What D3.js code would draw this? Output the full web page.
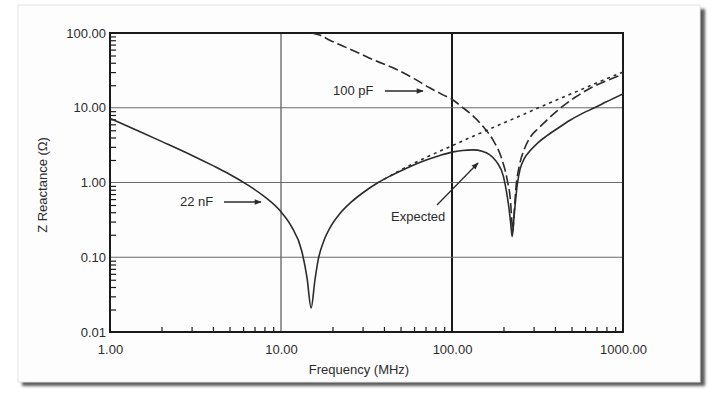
<!DOCTYPE html>
<html>
<head>
<meta charset="utf-8">
<script src="https://cdn.jsdelivr.net/npm/d3@7"></script>
<style>
  body { margin: 0; background: #ffffff; }
  svg { display: block; }
</style>
</head>
<body>
<svg id="chart" width="713" height="397"></svg>
<script>
// Solid line: 22 nF part at low frequency, "Expected" curve above it
var freqSolid = [1, 1.5, 2, 3, 4, 5, 6.3, 8, 10, 11.5, 13.2, 14.2, 15, 15.8, 16.5, 18, 19.3, 22, 26, 30, 37, 45, 55, 70, 85, 100, 115, 133, 150, 165, 182, 200, 209, 218, 222, 225, 229, 234, 241, 250, 265, 286, 320, 358, 420, 490, 580, 686, 800, 1000];
var zSolid = [7.2, 4.78, 3.55, 2.32, 1.68, 1.29, 0.945, 0.647, 0.405, 0.259, 0.123, 0.053, 0.021, 0.05, 0.092, 0.177, 0.246, 0.379, 0.558, 0.724, 1.0, 1.27, 1.58, 1.98, 2.3, 2.55, 2.68, 2.73, 2.62, 2.38, 1.9, 1.2, 0.72, 0.36, 0.24, 0.19, 0.29, 0.5, 0.95, 1.5, 2.1, 2.65, 3.45, 4.2, 5.4, 6.8, 8.4, 10.05, 12.0, 15.3];

// Dotted line: 22 nF alone above its resonance
var freqDotted = [40, 55, 70, 85, 100, 130, 160, 200, 260, 330, 420, 520, 650, 800, 1000];
var zDotted = [1.1, 1.64, 2.15, 2.63, 3.1, 4.07, 5.0, 6.25, 8.1, 10.3, 13.0, 16.0, 19.9, 24.4, 30];

// Dashed line: 100 pF
var freqDashed = [15.1, 17, 19.3, 23, 28, 35, 47.5, 60, 74, 88, 100, 114, 130, 152, 175, 195, 210, 220, 224, 227, 231, 236, 248, 265, 286, 320, 360, 419, 520, 650, 800, 1000];
var zDashed = [100, 93, 80, 67, 55, 43.5, 32.5, 24.5, 18.5, 15, 13, 10.3, 8.1, 5.6, 3.6, 2.1, 1.1, 0.55, 0.3, 0.22, 0.4, 0.8, 1.7, 2.8, 4.0, 5.3, 6.9, 9.4, 13.6, 18.5, 23, 28];

var xTicks = [1, 10, 100, 1000];
var yTicks = [0.01, 0.1, 1, 10, 100];
var xGrid = [10];
var yGrid = [0.1, 1, 10];

var drawChart = function() {
  let svg = d3.select("#chart");
  let font = "'Liberation Sans', Arial, Helvetica, sans-serif";
  let ink = "#2b2b2b";

  // card with shadow
  let defs = svg.append("defs");
  let f = defs.append("filter").attr("id", "blur").attr("x", "-5%").attr("y", "-5%").attr("width", "110%").attr("height", "110%");
  f.append("feGaussianBlur").attr("stdDeviation", 1.6);

  svg.append("rect")
  .attr("x", 22).attr("y", 9)
  .attr("width", 683).attr("height", 377)
  .attr("fill", "#5a5a5a")
  .attr("filter", "url(#blur)");

  svg.append("rect")
  .attr("x", 18).attr("y", 5)
  .attr("width", 682).attr("height", 377)
  .attr("fill", "#fefdfe")
  .attr("stroke", "#e4e4e4")
  .attr("stroke-width", 1);

  let margin = { top: 33, left: 110 };
  let plotWidth = 513;
  let plotHeight = 299;

  let x = d3.scaleLog().domain([1, 1000]).range([0, plotWidth]);
  let y = d3.scaleLog().domain([0.01, 100]).range([plotHeight, 0]);

  let plot = svg.append("g").attr("id", "plot")
  .attr("transform", "translate(" + margin.left + "," + margin.top + ")");

  defs.append("clipPath").attr("id", "clip")
  .append("rect").attr("width", plotWidth).attr("height", plotHeight);

  // grid
  plot.selectAll(".vgrid").data(xGrid).enter().append("line")
  .attr("x1", d => x(d)).attr("x2", d => x(d))
  .attr("y1", 0).attr("y2", plotHeight)
  .attr("stroke", "#555").attr("stroke-width", 1.2);

  plot.append("line")
  .attr("x1", x(100)).attr("x2", x(100))
  .attr("y1", 0).attr("y2", plotHeight)
  .attr("stroke", "#1a1a1a").attr("stroke-width", 2);

  plot.selectAll(".hgrid").data(yGrid).enter().append("line")
  .attr("x1", 0).attr("x2", plotWidth)
  .attr("y1", d => y(d)).attr("y2", d => y(d))
  .attr("stroke", "#6a6a6a").attr("stroke-width", 1.2);

  // minor ticks (2..9 in each decade), pointing into the plot
  let minorX = [];
  let minorY = [];
  [1, 10, 100].forEach(function(dec) {
    d3.range(2, 10).forEach(k => minorX.push(dec * k));
  });
  [0.01, 0.1, 1, 10].forEach(function(dec) {
    d3.range(2, 10).forEach(k => minorY.push(+(dec * k).toPrecision(3)));
  });

  let xMinor = plot.append("g").attr("transform", "translate(0," + plotHeight + ")")
  .call(d3.axisBottom(x).tickValues(minorX).tickSize(-5).tickFormat(""));
  let yMinor = plot.append("g")
  .call(d3.axisLeft(y).tickValues(minorY).tickSize(-6).tickFormat(""));
  [xMinor, yMinor].forEach(function(g) {
    g.select(".domain").remove();
    g.selectAll("line").attr("stroke", "#1a1a1a").attr("stroke-width", 1.2);
  });

  // axes with labels
  let xAxis = plot.append("g").attr("transform", "translate(0," + plotHeight + ")")
  .call(d3.axisBottom(x).tickValues(xTicks).tickSize(0).tickPadding(13).tickFormat(d3.format(".2f")));
  let yAxis = plot.append("g")
  .call(d3.axisLeft(y).tickValues(yTicks).tickSize(0).tickPadding(4).tickFormat(d3.format(".2f")));
  [xAxis, yAxis].forEach(function(g) {
    g.select(".domain").remove();
    g.selectAll("text")
    .style("font-family", font)
    .style("font-size", "13px")
    .style("fill", ink);
  });

  // frame
  plot.append("rect")
  .attr("width", plotWidth).attr("height", plotHeight)
  .attr("fill", "none")
  .attr("stroke", "#1a1a1a").attr("stroke-width", 2);

  // curves
  let line = d3.line()
  .x(d => x(d[0]))
  .y(d => y(d[1]))
  .curve(d3.curveMonotoneX);

  let curves = plot.append("g").attr("clip-path", "url(#clip)");

  curves.append("path")
  .datum(d3.zip(freqDotted, zDotted))
  .attr("d", line)
  .attr("fill", "none")
  .attr("stroke", ink).attr("stroke-width", 1.6)
  .attr("stroke-dasharray", "3,4");

  curves.append("path")
  .datum(d3.zip(freqDashed, zDashed))
  .attr("d", line)
  .attr("fill", "none")
  .attr("stroke", ink).attr("stroke-width", 1.6)
  .attr("stroke-dasharray", "10,4");

  curves.append("path")
  .datum(d3.zip(freqSolid, zSolid))
  .attr("d", line)
  .attr("fill", "none")
  .attr("stroke", ink).attr("stroke-width", 1.6);

  // annotations
  let marker = defs.append("marker").attr("id", "head")
  .attr("viewBox", "0 0 10 10").attr("refX", 9).attr("refY", 5)
  .attr("markerWidth", 9).attr("markerHeight", 7)
  .attr("markerUnits", "userSpaceOnUse")
  .attr("orient", "auto");
  marker.append("path").attr("d", "M0,1 L10,5 L0,9 Z").attr("fill", ink);

  let notes = [
    { text: "100 pF", tx: 333, ty: 95, ax1: 385, ay1: 91, ax2: 423, ay2: 91 },
    { text: "22 nF", tx: 180, ty: 206, ax1: 224, ay1: 202, ax2: 261, ay2: 202 },
    { text: "Expected", tx: 391, ty: 221, ax1: 437, ay1: 205, ax2: 478, ay2: 163 }
  ];
  notes.forEach(function(n) {
    svg.append("text").text(n.text)
    .attr("x", n.tx).attr("y", n.ty)
    .style("font-family", font).style("font-size", "13px").style("fill", ink);
    svg.append("line")
    .attr("x1", n.ax1).attr("y1", n.ay1).attr("x2", n.ax2).attr("y2", n.ay2)
    .attr("stroke", ink).attr("stroke-width", 1.3)
    .attr("marker-end", "url(#head)");
  });

  // axis titles
  svg.append("text").text("Frequency (MHz)")
  .attr("x", 359).attr("y", 374)
  .attr("text-anchor", "middle")
  .style("font-family", font).style("font-size", "13px").style("fill", ink);

  svg.append("text").text("Z Reactance (Ω)")
  .attr("transform", "translate(47,185) rotate(-90)")
  .attr("text-anchor", "middle")
  .style("font-family", font).style("font-size", "13px").style("fill", ink);
}

drawChart();
</script>
</body>
</html>
